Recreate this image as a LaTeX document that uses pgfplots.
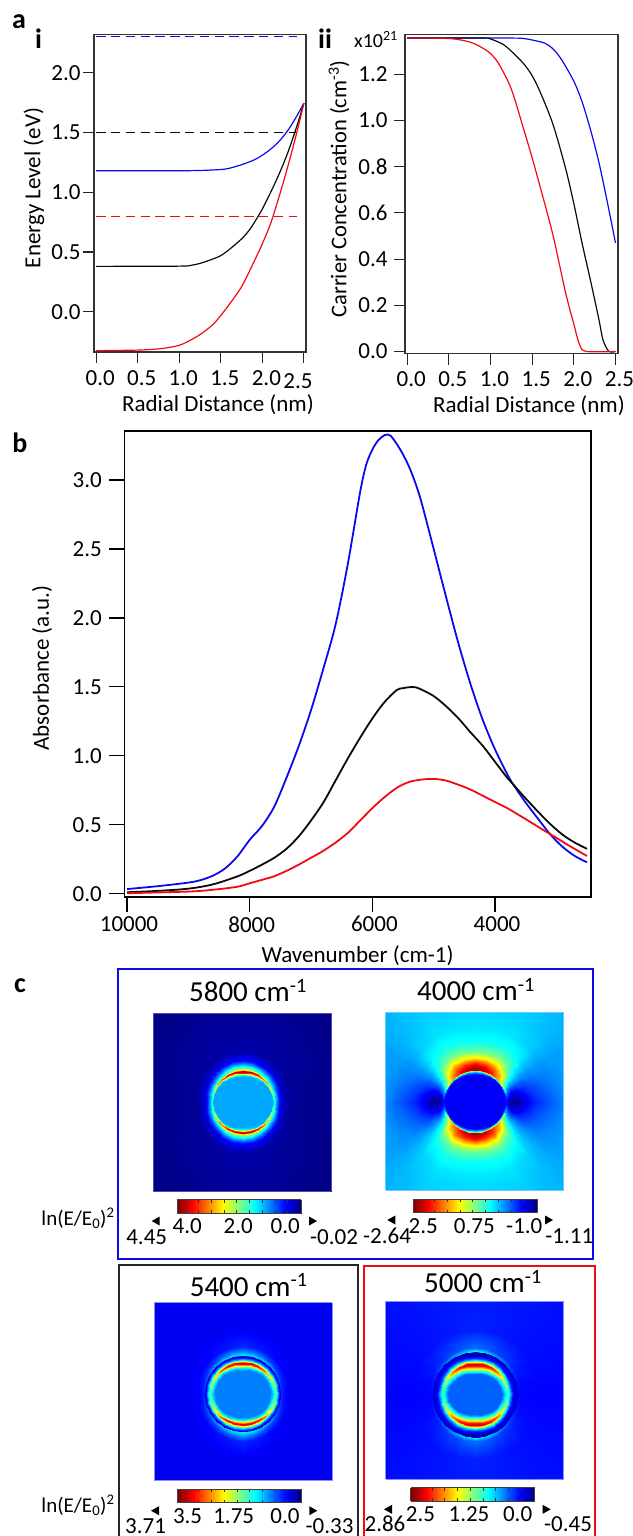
\documentclass[border=0pt]{standalone}
\usepackage{fontspec}
\setmainfont{Carlito}
\usepackage{pgfplots}
\usepackage{pgfplotstable}
\pgfplotsset{compat=1.18}
\definecolor{cb}{RGB}{10,10,235}
\definecolor{cr}{RGB}{240,10,20}
\definecolor{ck}{RGB}{10,10,10}
\newcommand\fs[1]{\fontsize{#1}{#1}\selectfont}
\newcommand\lab[4][23]{\node[font=\fs{#1},anchor=base,inner sep=0pt] at (#2pt,-#3pt) {#4};}
\newcommand\tl[2]{\fill[black] (#1pt,-#2pt) ++(0pt,0pt) -- ++(8pt,-4.5pt) -- ++(0pt,9pt) -- cycle;}
\newcommand\tr[2]{\fill[black] (#1pt,-#2pt) ++(8pt,0pt) -- ++(-8pt,-4.5pt) -- ++(0pt,9pt) -- cycle;}
\pgfplotsset{
 panel/.style={scale only axis,anchor=south west,tick align=outside,xtick pos=bottom,ytick pos=left,
  axis line style={draw=black!80,line width=1.1pt},tick style={draw=black!85,line width=1.1pt},
  major tick length=11pt,tick label style={font=\fs{23}},clip=true,
  xtick={0,0.5,1,1.5,2,2.5}},
 hm/.style={scale only axis,anchor=south west,view={0}{90},xtick=\empty,ytick=\empty,zmin=-1,zmax=1,
  colormap/jet,point meta min=0,point meta max=1,width=178pt,height=178pt},
 cbar/.style={scale only axis,anchor=south west,width=123.7pt,height=13.4pt,view={0}{90},colormap/jet,
  point meta min=0,point meta max=1,xmin=0,xmax=1,ymin=0,ymax=1,zmin=-1,zmax=1,ytick=\empty,
  xtick={0.07,0.172,0.275,0.378,0.48,0.583,0.686,0.789,0.89},xticklabels={},
  tick align=inside,major tick length=3pt,xtick pos=both,tick style={draw=black!80,line width=0.7pt},
  axis line style={draw=black!75,line width=0.9pt}},
}
\newcommand\quads[3]{%
 \addplot3[surf,shader=interp,mesh/rows=#2,mesh/cols=#3,point meta=\thisrow{v}] table[x expr=\thisrow{r}*cos(\thisrow{t}),y expr=\thisrow{r}*sin(\thisrow{t}),z expr=0]{#1};
 \addplot3[surf,shader=interp,mesh/rows=#2,mesh/cols=#3,point meta=\thisrow{v}] table[x expr=-\thisrow{r}*cos(\thisrow{t}),y expr=\thisrow{r}*sin(\thisrow{t}),z expr=0]{#1};
 \addplot3[surf,shader=interp,mesh/rows=#2,mesh/cols=#3,point meta=\thisrow{v}] table[x expr=\thisrow{r}*cos(\thisrow{t}),y expr=-\thisrow{r}*sin(\thisrow{t}),z expr=0]{#1};
 \addplot3[surf,shader=interp,mesh/rows=#2,mesh/cols=#3,point meta=\thisrow{v}] table[x expr=-\thisrow{r}*cos(\thisrow{t}),y expr=-\thisrow{r}*sin(\thisrow{t}),z expr=0]{#1};
}
\pgfplotstableread[row sep=\\]{
x y v\\ 0 0 1\\ 1 0 0\\ 0 1 1\\ 1 1 0\\
}\tabBar
% 5800 cm-1
\pgfplotstableread[row sep=\\]{
t r v\\
0 0 .29\\ 0 30.6 .29\\ 0 30.7 .31\\ 0 30.8 .33\\ 0 30.9 .36\\ 0 31 .40\\ 0 32 .36\\ 0 33 .29\\ 0 37 .10\\ 0 41 .05\\ 0 50 .02\\ 0 135 0\\
15 0 .29\\ 15 30 .29\\ 15 30.3 .32\\ 15 30.6 .37\\ 15 30.8 .42\\ 15 31 .50\\ 15 32 .42\\ 15 33 .33\\ 15 37 .15\\ 15 41 .06\\ 15 50 .02\\ 15 135 0\\
30 0 .29\\ 30 29 .29\\ 30 29.6 .34\\ 30 30.2 .44\\ 30 30.6 .56\\ 30 31 .66\\ 30 32 .50\\ 30 33 .38\\ 30 37 .19\\ 30 41 .07\\ 30 50 .025\\ 30 135 0\\
45 0 .29\\ 45 28 .29\\ 45 29 .35\\ 45 29.8 .50\\ 45 30.4 .68\\ 45 31 .80\\ 45 32 .58\\ 45 33 .43\\ 45 37 .23\\ 45 41 .09\\ 45 50 .03\\ 45 135 0\\
60 0 .29\\ 60 27 .29\\ 60 28.3 .36\\ 60 29.3 .58\\ 60 30.1 .78\\ 60 31 .90\\ 60 32 .64\\ 60 33 .48\\ 60 37 .28\\ 60 41 .12\\ 60 50 .035\\ 60 135 0\\
75 0 .29\\ 75 26 .29\\ 75 27.5 .36\\ 75 28.8 .60\\ 75 29.8 .84\\ 75 31 .95\\ 75 32 .68\\ 75 33 .52\\ 75 37 .31\\ 75 41 .14\\ 75 50 .04\\ 75 135 0\\
90 0 .29\\ 90 25 .29\\ 90 27 .36\\ 90 28.5 .62\\ 90 29.5 .85\\ 90 31 .97\\ 90 32 .70\\ 90 33 .54\\ 90 37 .33\\ 90 41 .15\\ 90 50 .04\\ 90 135 0\\
}\tabA
% 4000 cm-1
\pgfplotstableread[row sep=\\]{
t r v\\
0 0 .12\\ 0 30 .12\\ 0 30.5 .12\\ 0 30.8 .12\\ 0 31 .13\\ 0 31.6 .12\\ 0 34 .06\\ 0 38 .02\\ 0 43 .03\\ 0 50 .10\\ 0 60 .16\\ 0 75 .21\\ 0 95 .28\\ 0 135 .30\\
7.5 0 .12\\ 7.5 29.8 .12\\ 7.5 30.4 .13\\ 7.5 30.8 .14\\ 7.5 31 .15\\ 7.5 31.6 .18\\ 7.5 34 .10\\ 7.5 38 .06\\ 7.5 43 .07\\ 7.5 50 .12\\ 7.5 60 .18\\ 7.5 75 .225\\ 7.5 95 .28\\ 7.5 135 .30\\
15 0 .12\\ 15 29.5 .12\\ 15 30.3 .14\\ 15 30.8 .18\\ 15 31 .2\\ 15 31.6 .30\\ 15 34 .17\\ 15 38 .12\\ 15 43 .13\\ 15 50 .16\\ 15 60 .20\\ 15 75 .24\\ 15 95 .28\\ 15 135 .30\\
22.5 0 .12\\ 22.5 29.2 .12\\ 22.5 30.1 .16\\ 22.5 30.8 .22\\ 22.5 31 .26\\ 22.5 31.6 .45\\ 22.5 34 .30\\ 22.5 38 .22\\ 22.5 43 .21\\ 22.5 50 .21\\ 22.5 60 .23\\ 22.5 75 .255\\ 22.5 95 .28\\ 22.5 135 .295\\
30 0 .12\\ 30 29 .12\\ 30 30 .18\\ 30 30.7 .27\\ 30 31 .33\\ 30 31.6 .60\\ 30 34 .45\\ 30 38 .35\\ 30 43 .31\\ 30 50 .28\\ 30 60 .27\\ 30 75 .27\\ 30 95 .28\\ 30 135 .29\\
37.5 0 .12\\ 37.5 28.8 .12\\ 37.5 29.9 .2\\ 37.5 30.6 .3\\ 37.5 31 .37\\ 37.5 31.6 .66\\ 37.5 34 .58\\ 37.5 38 .49\\ 37.5 43 .41\\ 37.5 50 .35\\ 37.5 60 .32\\ 37.5 75 .30\\ 37.5 95 .295\\ 37.5 135 .295\\
45 0 .12\\ 45 28.5 .12\\ 45 29.8 .22\\ 45 30.6 .33\\ 45 31 .42\\ 45 31.6 .72\\ 45 34 .70\\ 45 38 .63\\ 45 43 .52\\ 45 50 .43\\ 45 60 .37\\ 45 75 .33\\ 45 95 .31\\ 45 135 .30\\
60 0 .12\\ 60 28 .12\\ 60 29.5 .25\\ 60 30.5 .38\\ 60 31 .50\\ 60 31.6 .85\\ 60 34 .84\\ 60 38 .77\\ 60 43 .64\\ 60 50 .49\\ 60 60 .40\\ 60 75 .35\\ 60 95 .33\\ 60 135 .31\\
75 0 .12\\ 75 27.5 .12\\ 75 29.2 .28\\ 75 30.4 .42\\ 75 31 .55\\ 75 31.6 .93\\ 75 34 .92\\ 75 38 .83\\ 75 43 .66\\ 75 50 .49\\ 75 60 .39\\ 75 75 .35\\ 75 95 .33\\ 75 135 .31\\
90 0 .12\\ 90 27 .12\\ 90 29 .30\\ 90 30.3 .44\\ 90 31 .60\\ 90 31.6 .97\\ 90 34 .94\\ 90 38 .85\\ 90 43 .65\\ 90 50 .47\\ 90 60 .38\\ 90 75 .35\\ 90 95 .33\\ 90 135 .32\\
}\tabB
% 5400 cm-1
\pgfplotstableread[row sep=\\]{
t r v\\
0 0 .25\\ 0 28 .25\\ 0 30.5 .33\\ 0 32 .40\\ 0 33 .42\\ 0 33.6 .42\\ 0 34.5 .35\\ 0 35.5 .26\\ 0 36.8 .16\\ 0 37.9 .06\\ 0 38.5 .16\\ 0 42 .135\\ 0 47 .113\\ 0 65 .11\\ 0 135 .11\\
15 0 .25\\ 15 27.5 .25\\ 15 30 .34\\ 15 31.5 .44\\ 15 32.5 .49\\ 15 33.3 .48\\ 15 34.3 .38\\ 15 35.3 .28\\ 15 36.6 .17\\ 15 37.9 .07\\ 15 38.5 .18\\ 15 42 .145\\ 15 47 .118\\ 15 65 .11\\ 15 135 .11\\
30 0 .25\\ 30 27 .25\\ 30 29.5 .36\\ 30 31 .48\\ 30 32 .60\\ 30 33 .60\\ 30 34 .46\\ 30 35 .3\\ 30 36.4 .18\\ 30 37.9 .08\\ 30 38.5 .22\\ 30 42 .165\\ 30 47 .12\\ 30 65 .11\\ 30 135 .11\\
45 0 .25\\ 45 26 .25\\ 45 28.5 .36\\ 45 30 .56\\ 45 31.3 .76\\ 45 32.3 .76\\ 45 33.4 .54\\ 45 34.7 .32\\ 45 36.2 .18\\ 45 37.9 .08\\ 45 38.5 .28\\ 45 42 .185\\ 45 47 .125\\ 45 65 .11\\ 45 135 .11\\
60 0 .25\\ 60 25 .25\\ 60 27.5 .36\\ 60 29.2 .58\\ 60 30.7 .85\\ 60 31.7 .87\\ 60 33 .60\\ 60 34.5 .34\\ 60 36 .18\\ 60 37.9 .07\\ 60 38.5 .32\\ 60 42 .225\\ 60 47 .14\\ 60 65 .11\\ 60 135 .11\\
75 0 .25\\ 75 24 .25\\ 75 26.5 .36\\ 75 28.5 .6\\ 75 30.2 .87\\ 75 31.2 .90\\ 75 32.8 .63\\ 75 34.2 .36\\ 75 36 .18\\ 75 37.9 .05\\ 75 38.5 .35\\ 75 42 .26\\ 75 47 .15\\ 75 65 .112\\ 75 135 .11\\
90 0 .25\\ 90 23 .25\\ 90 26 .36\\ 90 28 .62\\ 90 30 .88\\ 90 31 .92\\ 90 32.5 .66\\ 90 34 .38\\ 90 36 .18\\ 90 37.9 .04\\ 90 38.5 .36\\ 90 42 .28\\ 90 47 .165\\ 90 65 .115\\ 90 135 .11\\
}\tabC
% 5000 cm-1
\pgfplotstableread[row sep=\\]{
t r v\\
0 0 .22\\ 0 27 .22\\ 0 30 .34\\ 0 31.3 .38\\ 0 32.3 .42\\ 0 33.2 .42\\ 0 34.3 .36\\ 0 35.7 .26\\ 0 37.7 .14\\ 0 41 .09\\ 0 42.7 .05\\ 0 43.3 .13\\ 0 47 .127\\ 0 65 .125\\ 0 135 .125\\
15 0 .22\\ 15 26.5 .22\\ 15 29.5 .35\\ 15 31 .42\\ 15 32.2 .49\\ 15 33 .49\\ 15 34.2 .38\\ 15 35.6 .27\\ 15 37.6 .14\\ 15 41 .09\\ 15 42.7 .06\\ 15 43.3 .14\\ 15 47 .13\\ 15 65 .128\\ 15 135 .128\\
30 0 .22\\ 30 25.5 .22\\ 30 28 .36\\ 30 30 .46\\ 30 31.8 .60\\ 30 32.8 .60\\ 30 34 .44\\ 30 35.5 .29\\ 30 37.5 .15\\ 30 41 .09\\ 30 42.7 .07\\ 30 43.3 .17\\ 30 47 .145\\ 30 65 .132\\ 30 135 .132\\
45 0 .22\\ 45 24 .22\\ 45 26.5 .36\\ 45 29 .55\\ 45 31 .74\\ 45 32.3 .75\\ 45 33.8 .54\\ 45 35.4 .32\\ 45 37.4 .16\\ 45 41 .08\\ 45 42.7 .07\\ 45 43.3 .22\\ 45 47 .17\\ 45 65 .138\\ 45 135 .137\\
60 0 .22\\ 60 22 .22\\ 60 25 .36\\ 60 27.8 .58\\ 60 30.2 .84\\ 60 31.8 .87\\ 60 33.5 .60\\ 60 35.3 .35\\ 60 37.3 .17\\ 60 41 .06\\ 60 42.7 .06\\ 60 43.3 .28\\ 60 47 .19\\ 60 65 .144\\ 60 135 .142\\
75 0 .22\\ 75 21 .22\\ 75 23.8 .36\\ 75 26.7 .58\\ 75 29.5 .86\\ 75 31.3 .90\\ 75 33.2 .62\\ 75 35.2 .35\\ 75 37.2 .18\\ 75 41 .04\\ 75 42.7 .05\\ 75 43.3 .34\\ 75 47 .215\\ 75 65 .15\\ 75 135 .148\\
90 0 .22\\ 90 20 .22\\ 90 23 .36\\ 90 26 .58\\ 90 29 .85\\ 90 31 .92\\ 90 33 .64\\ 90 35 .36\\ 90 37 .18\\ 90 41 .03\\ 90 42.7 .04\\ 90 43.3 .38\\ 90 47 .235\\ 90 65 .155\\ 90 135 .15\\
}\tabD
\begin{document}
\begin{tikzpicture}
\useasboundingbox (0pt,0pt) rectangle (632pt,-1536pt);
% panel a i
\begin{axis}[panel,at={(94pt,-352pt)},width=212pt,height=317.4pt,
 xmin=-0.026,xmax=2.525,ymin=-0.336,ymax=2.318,
 ytick={0,0.5,1,1.5,2},yticklabels={0.0,0.5,1.0,1.5,2.0},
 xticklabels={0.0,0.5,1.0,1.5,2.0,},xticklabel style={xshift=4pt,yshift=-4pt},yticklabel style={xshift=1pt}]
\addplot[cb,line width=1pt,dash pattern=on 9.5pt off 5.3pt] coordinates {(0,2.30)(2.42,2.30)};
\addplot[ck,line width=1pt,dash pattern=on 9.5pt off 5.3pt] coordinates {(0,1.5)(2.42,1.5)};
\addplot[cr,line width=1pt,dash pattern=on 9.5pt off 5.3pt] coordinates {(0,0.8)(2.42,0.8)};
\addplot[cb,line width=1.2pt,smooth] coordinates {(0,1.18)(1.0,1.18)(1.25,1.182)(1.5,1.19)(1.6,1.2)(1.75,1.23)(1.9,1.27)(2.0,1.31)(2.1,1.36)(2.2,1.425)(2.3,1.51)(2.4,1.62)(2.5,1.745)};
\addplot[ck,line width=1.2pt,smooth] coordinates {(0,0.38)(1.0,0.382)(1.15,0.39)(1.25,0.405)(1.4,0.44)(1.5,0.47)(1.6,0.52)(1.75,0.61)(1.85,0.69)(1.95,0.80)(2.0,0.86)(2.1,1.0)(2.2,1.15)(2.3,1.32)(2.4,1.52)(2.5,1.745)};
\addplot[cr,line width=1.2pt,smooth] coordinates {(0,-0.325)(0.5,-0.32)(0.75,-0.31)(0.9,-0.295)(1.0,-0.28)(1.1,-0.25)(1.25,-0.19)(1.4,-0.11)(1.5,-0.03)(1.6,0.06)(1.75,0.21)(1.9,0.42)(2.0,0.57)(2.1,0.74)(2.2,0.96)(2.3,1.2)(2.4,1.46)(2.5,1.745)};
\end{axis}
% panel a ii
\begin{axis}[panel,at={(405pt,-353.5pt)},width=213pt,height=318.9pt,
 xmin=-0.026,xmax=2.53,ymin=-0.009,ymax=1.372,
 ytick={0,0.2,0.4,0.6,0.8,1,1.2},yticklabels={0.0,0.2,0.4,0.6,0.8,1.0,1.2},
 xticklabels={0.0,0.5,1.0,1.5,2.0,2.5},xticklabel style={xshift=4pt,yshift=-4pt},yticklabel style={xshift=-3pt}]
\addplot[cb,line width=1.2pt,smooth] coordinates {(0,1.357)(1.2,1.357)(1.4,1.355)(1.52,1.347)(1.65,1.335)(1.75,1.31)(1.85,1.265)(2.0,1.17)(2.1,1.08)(2.2,0.96)(2.3,0.82)(2.4,0.65)(2.5,0.47)};
\addplot[ck,line width=1.2pt,smooth] coordinates {(0,1.357)(0.9,1.357)(1.0,1.353)(1.15,1.33)(1.25,1.30)(1.4,1.245)(1.5,1.194)(1.6,1.12)(1.75,0.983)(1.9,0.794)(2.0,0.64)(2.1,0.467)(2.2,0.307)(2.3,0.14)(2.35,0.05)(2.42,0.0)(2.5,0.0)};
\addplot[cr,line width=1.2pt,smooth] coordinates {(0,1.357)(0.5,1.355)(0.75,1.34)(0.9,1.315)(1.0,1.29)(1.1,1.245)(1.25,1.136)(1.4,0.96)(1.5,0.838)(1.6,0.707)(1.75,0.503)(1.9,0.256)(2.0,0.118)(2.07,0.028)(2.15,0.0)(2.5,0.0)};
\end{axis}
\lab{298}{388}{2.5}
\lab[20]{376}{48}{x10\textsuperscript{21}}
\lab[28]{19}{29}{\textbf{a}}
\lab[28]{38.5}{49}{\textbf{i}}
\lab[28]{325}{49}{\textbf{ii}}
\lab[28]{20}{452}{\textbf{b}}
\lab[28]{20}{992}{\textbf{c}}
\lab{218}{411}{Radial Distance (nm)}
\lab{529}{412}{Radial Distance (nm)}
\node[font=\fs{23},rotate=90,inner sep=0pt] at (34pt,-188pt) {Energy Level (eV)};
\node[font=\fs{22.5},rotate=90,inner sep=0pt] at (339pt,-189pt) {Carrier Concentration (cm\textsuperscript{-3})};
% panel b
\begin{axis}[scale only axis,anchor=south west,at={(124.3pt,-896.8pt)},width=466.7pt,height=465.8pt,
 x dir=reverse,xmin=2435,xmax=10044,ymin=-0.023,ymax=3.355,tick align=outside,xtick pos=bottom,ytick pos=left,
 axis line style={draw=black,line width=1.5pt},tick style={draw=black,line width=1.4pt},major tick length=15pt,
 tick label style={font=\fs{23}},scaled x ticks=false,
 xtick={10000,8000,6000,4000},xticklabels={10000,8000,6000,4000},xticklabel style={xshift=2pt,yshift=-1pt},
 ytick={0,0.5,1,1.5,2,2.5,3},yticklabels={0.0,0.5,1.0,1.5,2.0,2.5,3.0},yticklabel style={xshift=-4pt}]
\addplot[cb,line width=1.8pt,smooth] coordinates {(10000,0.033)(9500,0.054)(9000,0.08)(8800,0.098)(8600,0.13)(8400,0.183)(8200,0.27)(8000,0.39)(7800,0.49)(7600,0.63)(7400,0.84)(7200,1.07)(7000,1.33)(6800,1.63)(6600,1.95)(6400,2.39)(6200,2.91)(6100,3.11)(6000,3.22)(5900,3.29)(5800,3.325)(5750,3.33)(5700,3.32)(5600,3.26)(5500,3.185)(5400,3.095)(5300,2.98)(5200,2.84)(5000,2.50)(4800,2.155)(4600,1.82)(4400,1.52)(4200,1.26)(4000,1.046)(3800,0.866)(3700,0.79)(3500,0.66)(3300,0.544)(3100,0.43)(2900,0.34)(2700,0.273)(2500,0.227)};
\addplot[ck,line width=1.8pt,smooth] coordinates {(10000,0.01)(9500,0.02)(9000,0.036)(8600,0.067)(8200,0.125)(8000,0.165)(7800,0.21)(7600,0.26)(7400,0.325)(7200,0.415)(7000,0.53)(6800,0.66)(6600,0.82)(6400,0.98)(6200,1.13)(6000,1.27)(5800,1.39)(5600,1.477)(5500,1.49)(5400,1.497)(5300,1.497)(5200,1.48)(5000,1.433)(4800,1.36)(4600,1.273)(4400,1.17)(4200,1.072)(4000,0.956)(3800,0.84)(3700,0.79)(3500,0.69)(3300,0.595)(3100,0.505)(2900,0.428)(2700,0.37)(2500,0.325)};
\addplot[cr,line width=1.8pt,smooth] coordinates {(10000,0.003)(9000,0.015)(8600,0.028)(8200,0.05)(8000,0.075)(7800,0.10)(7600,0.126)(7400,0.165)(7200,0.21)(7000,0.26)(6800,0.31)(6600,0.37)(6400,0.44)(6200,0.53)(6000,0.62)(5800,0.70)(5600,0.768)(5400,0.81)(5200,0.827)(5000,0.832)(4800,0.82)(4600,0.79)(4400,0.755)(4200,0.71)(4000,0.665)(3800,0.62)(3600,0.567)(3400,0.513)(3200,0.458)(3000,0.405)(2800,0.35)(2500,0.273)};
\end{axis}
\lab{357.6}{962}{Wavenumber (cm-1)}
\node[font=\fs{23},rotate=90,inner sep=0pt] at (42pt,-668pt) {Absorbance (a.u.)};
% boxes
\draw[draw=cb,line width=2pt] (118.3pt,-969.3pt) rectangle (593pt,-1258.7pt);
\draw[draw=black!85,line width=2pt] (118.5pt,-1265pt) rectangle (358.3pt,-1545pt);
\draw[draw=cr,line width=2pt] (363.5pt,-1265.7pt) rectangle (595pt,-1545pt);
% maps
\begin{axis}[hm,at={(153.3pt,-1191pt)},xmin=-89.7,xmax=88.7,ymin=-88.7,ymax=89,axis line style={draw=blue!40!gray,line width=0.7pt}]
\quads{\tabA}{7}{12}
\end{axis}
\begin{axis}[hm,at={(385.7pt,-1190.3pt)},xmin=-89.3,xmax=89,ymin=-88.6,ymax=89,axis line style={draw=cyan!60,line width=0.7pt}]
\quads{\tabB}{10}{14}
\end{axis}
\begin{axis}[hm,at={(154pt,-1480.7pt)},xmin=-88.7,xmax=89.7,ymin=-86.9,ymax=90.8,axis line style={draw=blue!45,line width=0.7pt}]
\quads{\tabC}{7}{15}
\end{axis}
\begin{axis}[hm,at={(385.8pt,-1479.3pt)},xmin=-89.2,xmax=89,ymin=-85,ymax=93.3,axis line style={draw=blue!45,line width=0.7pt}]
\quads{\tabD}{7}{15}
\end{axis}
% colour bars
\begin{axis}[cbar,at={(177.3pt,-1213.3pt)}]
\addplot3[surf,shader=interp,mesh/rows=2,mesh/cols=2,point meta=\thisrow{v}] table[x=x,y=y,z expr=0]{\tabBar};
\end{axis}
\begin{axis}[cbar,at={(413.3pt,-1212.7pt)}]
\addplot3[surf,shader=interp,mesh/rows=2,mesh/cols=2,point meta=\thisrow{v}] table[x=x,y=y,z expr=0]{\tabBar};
\end{axis}
\begin{axis}[cbar,at={(177.5pt,-1502.7pt)}]
\addplot3[surf,shader=interp,mesh/rows=2,mesh/cols=2,point meta=\thisrow{v}] table[x=x,y=y,z expr=0]{\tabBar};
\end{axis}
\begin{axis}[cbar,at={(410.8pt,-1501pt)}]
\addplot3[surf,shader=interp,mesh/rows=2,mesh/cols=2,point meta=\thisrow{v}] table[x=x,y=y,z expr=0]{\tabBar};
\end{axis}
% titles
\lab[29]{248}{1001.7}{5800 cm\textsuperscript{-1}}
\lab[29]{476}{1000.7}{4000 cm\textsuperscript{-1}}
\lab[29]{248.7}{1296}{5400 cm\textsuperscript{-1}}
\lab[29]{483}{1292.7}{5000 cm\textsuperscript{-1}}
% colour-bar texts
\lab{187.3}{1233.5}{4.0}\lab{238.3}{1233.5}{2.0}\lab{285.3}{1233.5}{0.0}
\lab{146.7}{1244.2}{4.45}\lab{334}{1244.2}{-0.02}
\lab{423.3}{1233.5}{2.5}\lab{474.3}{1233.5}{0.75}\lab{524.3}{1233.5}{-1.0}
\lab{387}{1243.5}{-2.64}\lab{569.3}{1243.2}{-1.11}
\lab{187.6}{1523.5}{3.5}\lab{233.7}{1523.5}{1.75}\lab{285}{1523.5}{0.0}
\lab{145.6}{1533.2}{3.71}\lab{329.6}{1533.2}{-0.33}
\lab{420.5}{1521.5}{2.5}\lab{469}{1521.5}{1.25}\lab{517.6}{1521.5}{0.0}
\lab{385}{1531.5}{2.86}\lab{568}{1531.5}{-0.45}
\lab[21]{78}{1225.5}{ln(E/E\textsubscript{0})\textsuperscript{2}}
\lab[21]{78}{1512.5}{ln(E/E\textsubscript{0})\textsuperscript{2}}
\tl{151.7}{1221}\tr{309}{1221}
\tl{387.3}{1220}\tr{545}{1220}
\tl{151}{1510.7}\tr{309.3}{1510.7}
\tl{384}{1509.3}\tr{542.7}{1509.3}
\end{tikzpicture}
\end{document}
